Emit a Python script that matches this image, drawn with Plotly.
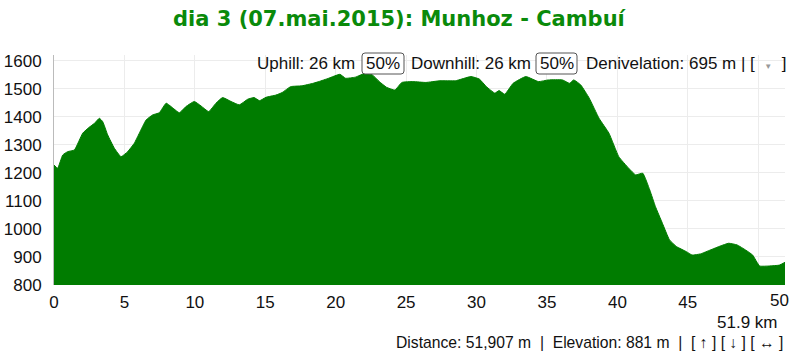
import plotly.graph_objects as go

km = [0, 0.26, 0.62, 0.97, 1.45, 2.04, 2.5, 2.87, 3.22, 3.46, 3.81, 4.29, 4.76, 5.23, 5.7, 6.06,
      6.54, 7.0, 7.48, 7.96, 8.31, 8.9, 9.37, 9.96, 10.44, 10.98, 11.5, 11.97, 12.57, 13.16,
      13.75, 14.2, 14.6, 15.05, 15.76, 16.2, 16.8, 17.6, 18.4, 18.8, 19.5, 20.3, 20.7, 21.4,
      22.1, 22.6, 23.1, 23.6, 24.2, 24.7, 25.5, 26.4, 27.4, 28.5, 29.6, 30.2, 30.7, 31.3,
      31.6, 32.0, 32.6, 33.5, 34.4, 35.1, 36.1, 36.6, 36.9, 37.4, 38.0, 38.7, 39.4, 40.1,
      40.8, 41.3, 41.8, 42.3, 42.7, 43.2, 43.7, 44.2, 44.9, 45.3, 45.9, 46.6, 47.3, 47.9,
      48.5, 49.1, 49.6, 50.1, 50.8, 51.5, 51.9]
elev = [1228, 1217, 1264, 1276, 1282, 1342, 1363, 1377, 1395, 1383, 1336, 1288, 1258, 1276,
        1306, 1342, 1389, 1407, 1415, 1449, 1437, 1415, 1437, 1455, 1439, 1419, 1449, 1469,
        1455, 1443, 1463, 1469, 1458, 1470, 1478, 1487, 1508, 1511, 1520, 1526, 1538, 1552,
        1538, 1542, 1556, 1550, 1526, 1506, 1496, 1523, 1526, 1523, 1529, 1529, 1544, 1535,
        1508, 1485, 1494, 1481, 1520, 1544, 1526, 1532, 1532, 1520, 1532, 1514, 1467, 1395,
        1342, 1258, 1217, 1193, 1199, 1139, 1080, 1020, 961, 937, 919, 907, 911, 925, 939,
        949, 943, 925, 907, 868, 868, 871, 881]

x_ticks = [0, 5, 10, 15, 20, 25, 30, 35, 40, 45, 50]
x_ticktext = ["0", "5", "10", "15", "20", "25", "30", "35", "40", "45", ""]
y_ticks = [800, 900, 1000, 1100, 1200, 1300, 1400, 1500, 1600]

title = "dia 3 (07.mai.2015): Munhoz - Cambuí"
uphill = "Uphill: 26 km"
downhill = "Downhill: 26 km"
pct_up = "50%"
pct_down = "50%"
deniv = ("Denivelation: 695 m | [&nbsp;&nbsp;<span style='color:#999;font-size:8px'>▼</span>"
         "&nbsp;&nbsp;]")
dist_label = "51.9 km"
footer = "Distance: 51,907 m  |  Elevation: 881 m  |  [ ↑ ] [ ↓ ] [ ↔ ]"

W, H = 800, 361
L, R, T, B = 54, 15, 55, 76
PW, PH = W - L - R, H - T - B


def px(x):
    return (x - L) / PW


def py(y):
    return (H - B - y) / PH


FONT = "Liberation Sans, Arial, sans-serif"
fs = 15.7
fs_top = 17
fs_tick = 17
fig = go.Figure()
fig.add_trace(go.Scatter(
    x=km, y=elev, mode="lines", fill="tozeroy",
    line=dict(color="#007c00", width=1, shape="spline", smoothing=0.4),
    fillcolor="#007c00", hoverinfo="x+y",
))


def note(text, x, y, xanchor, size=fs, **kw):
    d = dict(text=text, x=px(x), y=py(y), xanchor=xanchor, yanchor="middle",
             xref="paper", yref="paper", showarrow=False,
             font=dict(family=FONT, size=size, color="#111"))
    d.update(kw)
    return d


def rounded_box(x0, x1, y0, y1, r=3):
    X0, X1 = px(x0), px(x1)
    Y0, Y1 = py(y1), py(y0)
    rx, ry = r / PW, r / PH
    path = (f"M {X0+rx},{Y0} L {X1-rx},{Y0} Q {X1},{Y0} {X1},{Y0+ry} "
            f"L {X1},{Y1-ry} Q {X1},{Y1} {X1-rx},{Y1} L {X0+rx},{Y1} "
            f"Q {X0},{Y1} {X0},{Y1-ry} L {X0},{Y0+ry} Q {X0},{Y0} {X0+rx},{Y0} Z")
    return dict(type="path", path=path, xref="paper", yref="paper",
                line=dict(color="#555", width=1), fillcolor="white", layer="above")


ann = [
    note(f"<b>{title}</b>", 400, 19, "center",
         font=dict(family="DejaVu Sans, Verdana", size=21, color="#0a8a0a")),
    note(uphill, 357, 63, "right", size=fs_top),
    note(pct_up, 383, 63, "center", size=fs_top),
    note(downhill, 409, 63, "left", size=fs_top),
    note(pct_down, 556.5, 63, "center", size=fs_top),
    note(deniv, 584, 63, "left", size=fs_top),
    note("50", 791, 300, "right", size=fs_tick),
    note(dist_label, 779, 322, "right", size=fs_tick),
    note(footer, 785, 342, "right"),
]

shapes = [rounded_box(362, 404, 53, 74), rounded_box(536, 577, 53, 74)]

fig.update_layout(
    width=W, height=H, autosize=False,
    margin=dict(l=L, r=R, t=T, b=B, pad=0),
    paper_bgcolor="white", plot_bgcolor="white",
    showlegend=False,
    annotations=ann,
    shapes=shapes,
    xaxis=dict(range=[0, 51.9], tickvals=x_ticks, ticktext=x_ticktext, showgrid=True,
               gridcolor="#ececec", zeroline=False, showline=False, ticks="",
               ticklabelstandoff=5, automargin=False,
               tickfont=dict(family=FONT, size=fs_tick, color="#111")),
    yaxis=dict(range=[800, 1621], tickvals=y_ticks, showgrid=True, gridcolor="#ececec",
               zeroline=False, showline=True, linecolor="#bbbbbb", linewidth=1, ticks="",
               ticklabelstandoff=8, automargin=False,
               tickfont=dict(family=FONT, size=fs_tick, color="#111")),
)

fig.write_html("out.html", config={"displayModeBar": False},
               post_script="document.body.style.margin='0';")
